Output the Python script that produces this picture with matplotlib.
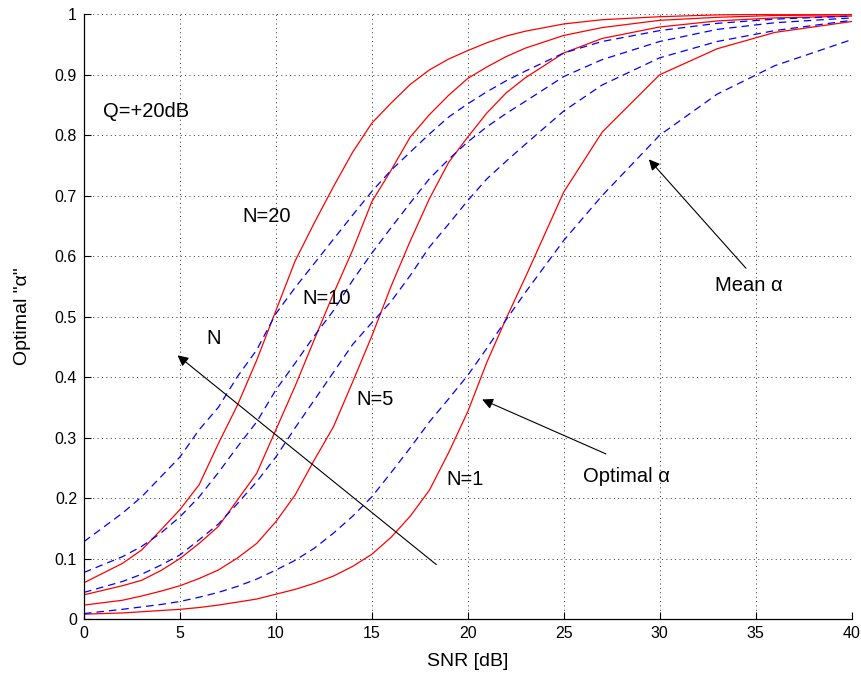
import numpy as np
import matplotlib
matplotlib.use('Agg')
import matplotlib.pyplot as plt

plt.rcParams['font.family'] = ['Liberation Sans', 'DejaVu Sans']

# SNR grid [dB]
snr = [0, 2, 3, 4, 5, 6, 7, 8, 9, 10, 11, 12, 13, 14, 15, 16, 17, 18, 19, 20,
       21, 22, 23, 25, 27, 30, 33, 36, 40]

# optimal alpha (solid red) for N = 20, 10, 5, 1
opt_n20 = [0.060, 0.092, 0.114, 0.147, 0.181, 0.222, 0.290, 0.354, 0.428, 0.510,
           0.592, 0.655, 0.715, 0.772, 0.820, 0.853, 0.884, 0.908, 0.926, 0.940,
           0.953, 0.964, 0.972, 0.984, 0.991, 0.996, 0.999, 1.000, 1.000]
opt_n10 = [0.040, 0.055, 0.064, 0.080, 0.100, 0.125, 0.153, 0.197, 0.241, 0.313,
           0.385, 0.462, 0.538, 0.610, 0.690, 0.742, 0.797, 0.834, 0.866, 0.894,
           0.913, 0.930, 0.944, 0.965, 0.978, 0.990, 0.995, 0.998, 0.999]
opt_n5 = [0.023, 0.031, 0.038, 0.046, 0.055, 0.067, 0.081, 0.101, 0.125, 0.161,
          0.205, 0.263, 0.318, 0.392, 0.468, 0.550, 0.625, 0.695, 0.755, 0.797,
          0.837, 0.870, 0.895, 0.936, 0.960, 0.979, 0.989, 0.994, 0.997]
opt_n1 = [0.008, 0.010, 0.012, 0.014, 0.016, 0.019, 0.023, 0.028, 0.033, 0.041,
          0.049, 0.059, 0.071, 0.087, 0.107, 0.135, 0.170, 0.213, 0.275, 0.343,
          0.425, 0.497, 0.565, 0.706, 0.805, 0.900, 0.943, 0.970, 0.988]

# mean alpha (dashed blue) for N = 20, 10, 5, 1
mean_n20 = [0.128, 0.175, 0.202, 0.235, 0.268, 0.313, 0.350, 0.401, 0.445, 0.505,
            0.548, 0.588, 0.628, 0.668, 0.707, 0.742, 0.772, 0.802, 0.830, 0.852,
            0.872, 0.890, 0.906, 0.936, 0.955, 0.973, 0.985, 0.992, 0.997]
mean_n10 = [0.077, 0.103, 0.120, 0.142, 0.169, 0.202, 0.242, 0.285, 0.326, 0.379,
            0.423, 0.468, 0.510, 0.560, 0.605, 0.647, 0.688, 0.728, 0.760, 0.789,
            0.814, 0.836, 0.856, 0.897, 0.925, 0.955, 0.975, 0.986, 0.994]
mean_n5 = [0.044, 0.062, 0.074, 0.089, 0.106, 0.131, 0.157, 0.191, 0.227, 0.268,
           0.316, 0.362, 0.408, 0.454, 0.490, 0.525, 0.568, 0.615, 0.653, 0.692,
           0.728, 0.757, 0.785, 0.840, 0.883, 0.928, 0.955, 0.973, 0.990]
mean_n1 = [0.009, 0.016, 0.020, 0.024, 0.029, 0.036, 0.044, 0.054, 0.066, 0.081,
           0.097, 0.117, 0.142, 0.170, 0.202, 0.242, 0.283, 0.326, 0.364, 0.403,
           0.448, 0.495, 0.540, 0.626, 0.700, 0.800, 0.868, 0.915, 0.958]

fig = plt.figure(figsize=(8.61, 6.8), dpi=100)
ax = fig.add_axes([0.0976, 0.0897, 0.8914, 0.8893])

for y in [opt_n20, opt_n10, opt_n5, opt_n1]:
    ax.plot(snr, y, color='red', lw=0.9)
for y in [mean_n20, mean_n10, mean_n5, mean_n1]:
    ax.plot(snr, y, color='blue', lw=0.9, dashes=(6, 4))

ax.set_xlim(0, 40)
ax.set_ylim(0, 1)
ax.set_xticks(np.arange(0, 41, 5))
ax.set_yticks(np.arange(0, 1.01, 0.1))
ax.set_yticklabels(['0', '0.1', '0.2', '0.3', '0.4', '0.5', '0.6', '0.7', '0.8', '0.9', '1'])
ax.tick_params(direction='in', length=5, width=0.8, labelsize=11.5, pad=5)
ax.grid(True, color='0.2', linestyle=(0, (1, 3.5)), lw=0.7)
for s in ['top', 'right']:
    ax.spines[s].set_visible(False)
for s in ['left', 'bottom']:
    ax.spines[s].set_linewidth(0.9)

ax.set_xlabel('SNR [dB]', fontsize=14)
ax.set_ylabel('Optimal "\u03b1"', fontsize=14)
ax.xaxis.set_label_coords(0.5, -0.056)
ax.yaxis.set_label_coords(-0.069, 0.5)

fs = 14.5
ax.text(1.0, 0.84, 'Q=+20dB', fontsize=fs, va='center')
ax.text(8.27, 0.665, 'N=20', fontsize=fs, va='center')
ax.text(11.4, 0.53, 'N=10', fontsize=fs, va='center')
ax.text(14.2, 0.363, 'N=5', fontsize=fs, va='center')
ax.text(18.9, 0.23, 'N=1', fontsize=fs, va='center')
ax.text(6.4, 0.464, 'N', fontsize=fs, va='center')
ax.text(26.0, 0.235, 'Optimal \u03b1', fontsize=fs, va='center')
ax.text(32.9, 0.552, 'Mean \u03b1', fontsize=fs, va='center')

arrow = dict(arrowstyle='-|>', color='k', lw=0.8, mutation_scale=16, shrinkA=0, shrinkB=0)
ax.annotate('', xy=(4.87, 0.436), xytext=(18.36, 0.09), arrowprops=arrow)
ax.annotate('', xy=(20.75, 0.363), xytext=(27.2, 0.273), arrowprops=arrow)
ax.annotate('', xy=(29.44, 0.76), xytext=(34.5, 0.58), arrowprops=arrow)

fig.savefig('out.png', dpi=100)
